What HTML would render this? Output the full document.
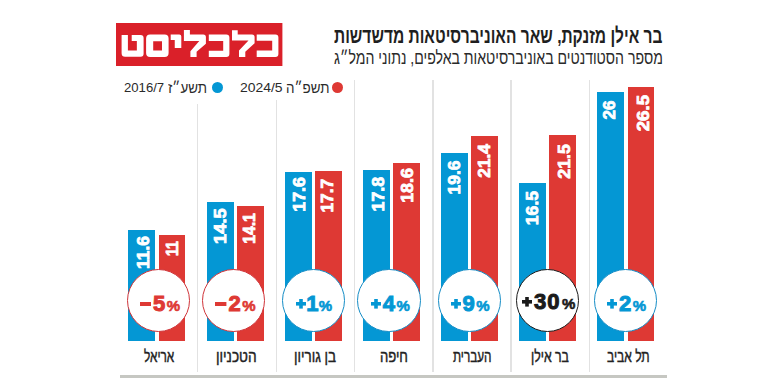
<!DOCTYPE html>
<html><head><meta charset="utf-8">
<style>
html,body{margin:0;padding:0;background:#fff;width:774px;height:384px;overflow:hidden;position:relative;font-family:"Liberation Sans",sans-serif}
.abs{position:absolute}
.t{position:absolute;white-space:nowrap;direction:rtl;line-height:1;transform-origin:0 0}
.vl{position:absolute;width:1.5px;background:#e2e2e2}
.bar{position:absolute}
.val{position:absolute;left:0;top:0;white-space:nowrap;font-weight:bold;font-size:17.2px;line-height:1;color:#fff;-webkit-text-stroke:0.8px #fff;transform-origin:0 0}
.circ{position:absolute;width:61.2px;height:61.2px;border:1.8px solid;border-radius:50%;background:#fff}
.pct{position:absolute;width:80px;height:22px;text-align:center;white-space:nowrap;font-size:22px;line-height:22px;font-weight:bold}
.pct b{font-weight:bold;-webkit-text-stroke:1px currentColor}

.pct s{text-decoration:none;font-size:15px;margin-left:1.5px;-webkit-text-stroke:0.6px currentColor}
.lab{position:absolute;top:347.53px;width:100px;text-align:center;direction:rtl;white-space:nowrap;font-size:16.5px;line-height:16.5px;color:#2a2a2a;transform:scaleX(0.74)}
</style></head><body>
<svg class="abs" style="left:0;top:0" width="774" height="384">
<rect x="116" y="23" width="166.4" height="43" fill="#da2029"/>
<g fill="#fff">
<path d="M121.6 34.9H127.9V50.6H136.85V41.1H131.7V34.9H140.6Q143.6 34.9 143.6 37.9V53.8Q143.6 56.8 140.6 56.8H125.1Q121.6 56.8 121.6 53.3Z"/>
<path fill-rule="evenodd" d="M150.1 34.6H164.6Q168.6 34.6 168.6 38.6V52.9Q168.6 56.9 164.6 56.9H150.1Q146.1 56.9 146.1 52.9V38.6Q146.1 34.6 150.1 34.6ZM153.2 41.2V50.6H162V41.2Z"/>
<path d="M170.7 34.6H179.3Q181.3 34.6 181.3 36.6V48H174.75V39.9H170.7Z"/>
<path d="M183.9 30.1H189.9V34.4H203.3Q205.9 34.4 205.9 37V43.7L196.6 51.7V56.9H190.4V51.2L199.3 40.9H183.9Z"/>
<path d="M208.8 34.4H226.2Q229.4 34.4 229.4 37.6V53.8Q229.4 57 226.2 57H208.8V50.7H223.2V40.9H208.8Z"/>
<path d="M232 30.2H237.7V34.5H252Q254.6 34.5 254.6 37.1V43.3L245.3 51.7V56.9H239V50.5L248.5 40.6H232Z"/>
<path d="M256.7 34.5H275.4Q278.4 34.5 278.4 37.5V53.9Q278.4 56.9 275.4 56.9H256.7V50.6H272.2V40.7H256.7Z"/>
</g>
</svg>
<div class="t" style="left:333.56px;top:24.97px;font-size:21px;font-weight:bold;color:#1f1f1f;transform:scaleX(0.7397)">בר אילן מזנקת, שאר האוניברסיטאות מדשדשות</div>
<div class="t" style="left:333.82px;top:49.36px;font-size:18px;color:#2a2a2a;transform:scaleX(0.7833)">מספר הסטודנטים באוניברסיטאות באלפים, נתוני המל&#1524;ג</div>
<div class="vl" style="left:196.75px;top:103.5px;height:268.00px"></div><div class="vl" style="left:275.75px;top:100px;height:271.50px"></div><div class="vl" style="left:353.75px;top:80px;height:291.50px"></div><div class="vl" style="left:432.25px;top:80px;height:291.50px"></div><div class="vl" style="left:510.25px;top:80px;height:291.50px"></div><div class="vl" style="left:588.75px;top:80px;height:291.50px"></div><div class="bar" style="left:597.40px;top:91.83px;width:27px;height:248.77px;background:#0497d4"></div><div class="bar" style="left:627.60px;top:87.05px;width:26.9px;height:253.55px;background:#de3934"></div><div class="val" style="transform:translate(601.20px,119.4px) rotate(-90deg) scaleX(0.9895)">26</div><div class="val" style="transform:translate(635.20px,131.3px) rotate(-90deg) scaleX(1.0853)">26.5</div><div class="circ" style="left:594.25px;top:268.90px;border-color:#168dc6"></div><div class="pct" style="left:586.60px;top:293.27px;color:#0497d4"><svg width="10" height="9.6" style="margin-right:2px;vertical-align:2.2px"><rect x="3.2" y="0" width="3.6" height="9.6" fill="#0497d4"/><rect x="0" y="3" width="10" height="3.6" fill="#0497d4"/></svg><b style="">2</b><s>%</s></div><div class="t" style="left:606.77px;top:347.53px;font-size:16.5px;-webkit-text-stroke:0.45px #222;color:#222;transform:scaleX(0.7286)">תל אביב</div><div class="bar" style="left:519.22px;top:182.73px;width:27px;height:157.87px;background:#0497d4"></div><div class="bar" style="left:549.42px;top:134.89px;width:26.9px;height:205.71px;background:#de3934"></div><div class="val" style="transform:translate(524.20px,225.23px) rotate(-90deg) scaleX(1.0288)">16.5</div><div class="val" style="transform:translate(555.50px,178.7px) rotate(-90deg) scaleX(1.0324)">21.5</div><div class="circ" style="left:515.75px;top:268.90px;border-color:#1a1a1a"></div><div class="pct" style="left:508.62px;top:290.97px;color:#1a1a1a"><svg width="10" height="9.6" style="margin-right:2px;vertical-align:2.2px"><rect x="3.2" y="0" width="3.6" height="9.6" fill="#1a1a1a"/><rect x="0" y="3" width="10" height="3.6" fill="#1a1a1a"/></svg><b style="letter-spacing:1px">30</b><s>%</s></div><div class="t" style="left:530.66px;top:347.53px;font-size:16.5px;-webkit-text-stroke:0.45px #222;color:#222;transform:scaleX(0.744)">בר אילן</div><div class="bar" style="left:441.04px;top:153.07px;width:27px;height:187.53px;background:#0497d4"></div><div class="bar" style="left:471.24px;top:135.84px;width:26.9px;height:204.76px;background:#de3934"></div><div class="val" style="transform:translate(445.90px,194.41px) rotate(-90deg) scaleX(1.0094)">19.6</div><div class="val" style="transform:translate(476.20px,177.7px) rotate(-90deg) scaleX(1.0029)">21.4</div><div class="circ" style="left:437.60px;top:268.90px;border-color:#168dc6"></div><div class="pct" style="left:430.14px;top:293.27px;color:#0497d4"><svg width="10" height="9.6" style="margin-right:2px;vertical-align:2.2px"><rect x="3.2" y="0" width="3.6" height="9.6" fill="#0497d4"/><rect x="0" y="3" width="10" height="3.6" fill="#0497d4"/></svg><b style="">9</b><s>%</s></div><div class="t" style="left:453.0px;top:347.53px;font-size:16.5px;-webkit-text-stroke:0.45px #222;color:#222;transform:scaleX(0.7113)">העברית</div><div class="bar" style="left:362.86px;top:170.29px;width:27px;height:170.31px;background:#0497d4"></div><div class="bar" style="left:393.06px;top:162.64px;width:26.9px;height:177.96px;background:#de3934"></div><div class="val" style="transform:translate(369.80px,211.54px) rotate(-90deg) scaleX(1.0375)">17.8</div><div class="val" style="transform:translate(399.10px,202.84px) rotate(-90deg) scaleX(1.0375)">18.6</div><div class="circ" style="left:357.40px;top:268.90px;border-color:#168dc6"></div><div class="pct" style="left:350.36px;top:293.27px;color:#0497d4"><svg width="10" height="9.6" style="margin-right:2px;vertical-align:2.2px"><rect x="3.2" y="0" width="3.6" height="9.6" fill="#0497d4"/><rect x="0" y="3" width="10" height="3.6" fill="#0497d4"/></svg><b style="">4</b><s>%</s></div><div class="t" style="left:379.71px;top:347.53px;font-size:16.5px;-webkit-text-stroke:0.45px #222;color:#222;transform:scaleX(0.7909)">חיפה</div><div class="bar" style="left:284.68px;top:172.20px;width:27px;height:168.40px;background:#0497d4"></div><div class="bar" style="left:314.88px;top:171.25px;width:26.9px;height:169.35px;background:#de3934"></div><div class="val" style="transform:translate(290.80px,211.74px) rotate(-90deg) scaleX(1.0375)">17.6</div><div class="val" style="transform:translate(319.20px,212.61px) rotate(-90deg) scaleX(1.0062)">17.7</div><div class="circ" style="left:282.00px;top:268.90px;border-color:#168dc6"></div><div class="pct" style="left:274.28px;top:293.27px;color:#0497d4"><svg width="10" height="9.6" style="margin-right:2px;vertical-align:2.2px"><rect x="3.2" y="0" width="3.6" height="9.6" fill="#0497d4"/><rect x="0" y="3" width="10" height="3.6" fill="#0497d4"/></svg><b style="margin-left:-2.2px;margin-right:-1.2px">1</b><s>%</s></div><div class="t" style="left:294.39px;top:347.53px;font-size:16.5px;-webkit-text-stroke:0.45px #222;color:#222;transform:scaleX(0.814)">בן גוריון</div><div class="bar" style="left:206.50px;top:201.86px;width:27px;height:138.74px;background:#0497d4"></div><div class="bar" style="left:236.70px;top:205.69px;width:26.9px;height:134.91px;background:#de3934"></div><div class="val" style="transform:translate(211.80px,243.97px) rotate(-90deg) scaleX(1.0667)">14.5</div><div class="val" style="transform:translate(241.10px,243.82px) rotate(-90deg) scaleX(0.9182)">14.1</div><div class="circ" style="left:202.05px;top:268.90px;border-color:#d0353a"></div><div class="pct" style="left:195.40px;top:293.27px;color:#de3934"><svg width="11.4" height="4.5" style="margin-right:2px;vertical-align:4.8px"><rect x="0" y="0" width="11.4" height="4.5" fill="#de3934"/></svg><b style="">2</b><s>%</s></div><div class="t" style="left:216.07px;top:347.53px;font-size:16.5px;-webkit-text-stroke:0.45px #222;color:#222;transform:scaleX(0.8255)">הטכניון</div><div class="bar" style="left:128.32px;top:229.61px;width:27px;height:110.99px;background:#0497d4"></div><div class="bar" style="left:158.52px;top:235.35px;width:26.9px;height:105.25px;background:#de3934"></div><div class="val" style="transform:translate(134.80px,268.91px) rotate(-90deg) scaleX(1.0097)">11.6</div><div class="val" style="transform:translate(164.10px,256.01px) rotate(-90deg) scaleX(0.8059)">11</div><div class="circ" style="left:126.85px;top:268.90px;border-color:#d0353a"></div><div class="pct" style="left:119.92px;top:293.27px;color:#de3934"><svg width="11.4" height="4.5" style="margin-right:2px;vertical-align:4.8px"><rect x="0" y="0" width="11.4" height="4.5" fill="#de3934"/></svg><b style="">5</b><s>%</s></div><div class="t" style="left:144.2px;top:347.53px;font-size:16.5px;-webkit-text-stroke:0.45px #222;color:#222;transform:scaleX(0.7167)">אריאל</div>
<div class="abs" style="left:120px;top:374.6px;width:547px;height:3.6px;background:#c6c7c2"></div>
<div class="t" style="left:124.19px;top:81.49px;font-size:13px;color:#2a2a2a;transform:scaleX(1.0105)">2016/7</div>
<div class="t" style="left:168.3px;top:79.80px;font-size:15px;color:#2a2a2a;transform:scaleX(0.8907)">תשע&#1524;ז</div>
<div class="abs" style="left:211.5px;top:81.5px;width:11px;height:11px;border-radius:50%;background:#0497d4"></div>
<div class="t" style="left:239.93px;top:81.49px;font-size:13px;color:#2a2a2a;transform:scaleX(1.0711)">2024/5</div>
<div class="t" style="left:285.71px;top:79.80px;font-size:15px;color:#2a2a2a;transform:scaleX(0.8915)">תשפ&#1524;ה</div>
<div class="abs" style="left:332.3px;top:81.5px;width:11px;height:11px;border-radius:50%;background:#de3934"></div>
</body></html>
